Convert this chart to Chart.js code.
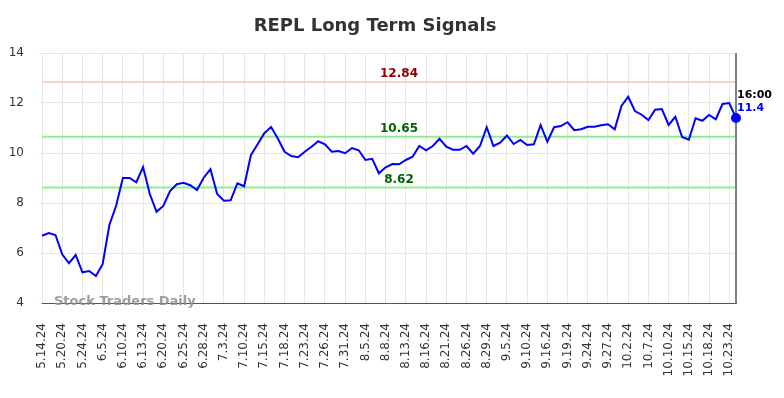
<!DOCTYPE html>
<html>
<head>
<meta charset="utf-8">
<script src="https://cdn.jsdelivr.net/npm/chart.js@4/dist/chart.umd.min.js"></script>
<style>
  html, body { margin: 0; padding: 0; background: #fff; }
  #wrap { width: 784px; height: 398px; }
</style>
</head>
<body>
<div id="wrap"><canvas id="chart"></canvas></div>
<script>
// every third session carries a date label
const tickLabels = ["5.14.24", "5.20.24", "5.24.24", "6.5.24", "6.10.24", "6.13.24", "6.20.24", "6.25.24", "6.28.24", "7.3.24",
  "7.10.24", "7.15.24", "7.18.24", "7.23.24", "7.26.24", "7.31.24", "8.5.24", "8.8.24", "8.13.24", "8.16.24",
  "8.21.24", "8.26.24", "8.29.24", "9.5.24", "9.10.24", "9.16.24", "9.19.24", "9.24.24", "9.27.24", "10.2.24",
  "10.7.24", "10.10.24", "10.15.24", "10.18.24", "10.23.24"];

const prices = [6.69, 6.80, 6.72, 5.95, 5.59, 5.92, 5.23, 5.28, 5.08, 5.55,
  7.12, 7.89, 9.00, 9.00, 8.83, 9.44, 8.36, 7.65, 7.88, 8.48,
  8.75, 8.81, 8.71, 8.52, 9.01, 9.35, 8.36, 8.09, 8.11, 8.79,
  8.67, 9.91, 10.35, 10.79, 11.04, 10.58, 10.05, 9.88, 9.83, 10.05,
  10.25, 10.47, 10.35, 10.05, 10.08, 9.99, 10.20, 10.11, 9.72, 9.77,
  9.19, 9.43, 9.56, 9.55, 9.72, 9.85, 10.28, 10.11, 10.28, 10.57,
  10.25, 10.13, 10.13, 10.28, 9.97, 10.28, 11.03, 10.28, 10.41, 10.70,
  10.36, 10.52, 10.32, 10.35, 11.12, 10.45, 11.03, 11.08, 11.23, 10.91,
  10.95, 11.05, 11.05, 11.11, 11.15, 10.95, 11.88, 12.25, 11.68, 11.53,
  11.32, 11.73, 11.76, 11.12, 11.45, 10.64, 10.53, 11.39, 11.29, 11.52,
  11.35, 11.96, 12.00, 11.40];

const resistance = [12.84];
const supports = [10.65, 8.62];
const yTicks = [4, 6, 8, 10, 12, 14];
const lastTime = "16:00";

const categories = prices.map((p, i) => (i % 3 === 0 && tickLabels[i / 3]) ? tickLabels[i / 3] : "");
const lastIdx = prices.length - 1;
const FONT = "'DejaVu Sans', sans-serif";

const overlay = {
  id: "overlay",
  beforeDatasetsDraw(chart) {
    const { ctx, chartArea, scales } = chart;
    ctx.save();
    const drawLevel = (v, color) => {
      const y = scales.y.getPixelForValue(v);
      ctx.strokeStyle = color;
      ctx.lineWidth = 2;
      ctx.beginPath();
      ctx.moveTo(chartArea.left, y);
      ctx.lineTo(chartArea.right, y);
      ctx.stroke();
    };
    resistance.forEach(v => drawLevel(v, "#ffcccc"));
    supports.forEach(v => drawLevel(v, "#90ee90"));

    const lx = scales.x.getPixelForValue(lastIdx);
    ctx.strokeStyle = "#808080";
    ctx.lineWidth = 2;
    ctx.beginPath();
    ctx.moveTo(lx, chartArea.top);
    ctx.lineTo(lx, chartArea.bottom);
    ctx.stroke();
    ctx.restore();
  },
  afterDraw(chart) {
    const { ctx, chartArea, scales } = chart;
    ctx.save();
    ctx.textAlign = "center";
    ctx.textBaseline = "middle";
    ctx.fillStyle = "#333";
    ctx.font = "bold 18px " + FONT;
    ctx.fillText("REPL Long Term Signals", 375, 26);

    const mid = (chartArea.left + chartArea.right) / 2 + 10;
    ctx.font = "bold 12px " + FONT;
    resistance.forEach(v => {
      ctx.fillStyle = "#8b0000";
      ctx.fillText(v.toFixed(2), mid, scales.y.getPixelForValue(v) - 8);
    });
    supports.forEach(v => {
      ctx.fillStyle = "#006400";
      ctx.fillText(v.toFixed(2), mid, scales.y.getPixelForValue(v) - 8);
    });

    ctx.textAlign = "left";
    ctx.font = "bold 13px " + FONT;
    ctx.fillStyle = "rgba(140,140,140,0.85)";
    ctx.fillText("Stock Traders Daily", 54, chartArea.bottom - 1);

    const lx = scales.x.getPixelForValue(lastIdx);
    const ly = scales.y.getPixelForValue(prices[lastIdx]);
    ctx.font = "bold 11px " + FONT;
    ctx.fillStyle = "#000";
    ctx.fillText(lastTime, lx + 1, ly - 23);
    ctx.fillStyle = "#0000ff";
    ctx.fillText(String(prices[lastIdx]), lx + 1, ly - 10);
    ctx.restore();
  }
};

new Chart(document.getElementById("chart"), {
  type: "line",
  data: {
    labels: categories,
    datasets: [{
      data: prices,
      borderColor: "#0000ff",
      backgroundColor: "#0000ff",
      borderWidth: 2,
      tension: 0,
      pointRadius: ctx => ctx.dataIndex === lastIdx ? 4 : 0,
      pointHoverRadius: 0
    }]
  },
  options: {
    responsive: true,
    maintainAspectRatio: false,
    animation: false,
    events: [],
    layout: { padding: { left: 0, right: 48, top: 53, bottom: 0 } },
    plugins: { legend: { display: false }, title: { display: false }, tooltip: { enabled: false } },
    scales: {
      x: {
        afterFit: s => { s.height = 95; },
        grid: { color: "#e6e6e6", lineWidth: 1, drawTicks: false },
        border: { display: true, color: "#555", width: 1 },
        ticks: {
          autoSkip: false,
          minRotation: 90,
          maxRotation: 90,
          padding: 20,
          color: "#333",
          font: { family: FONT, size: 12 },
          callback: (v, i) => categories[i] ? categories[i] : null
        }
      },
      y: {
        min: 4,
        max: 14,
        afterFit: s => { s.width = 42; },
        afterBuildTicks: s => { s.ticks = yTicks.map(v => ({ value: v })); },
        grid: { color: "#e6e6e6", lineWidth: 1, tickLength: 3 },
        border: { display: false },
        ticks: { padding: 15, color: "#333", font: { family: FONT, size: 12 } }
      }
    }
  },
  plugins: [overlay]
});
</script>
</body>
</html>
